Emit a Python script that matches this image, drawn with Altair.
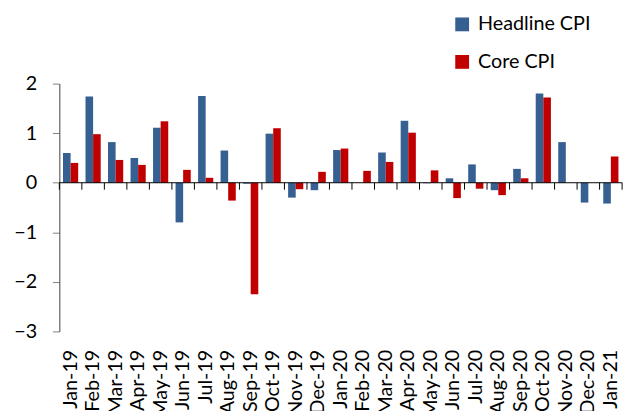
import altair as alt
import pandas as pd

months = ["Jan-19", "Feb-19", "Mar-19", "Apr-19", "May-19", "Jun-19", "Jul-19", "Aug-19",
          "Sep-19", "Oct-19", "Nov-19", "Dec-19", "Jan-20", "Feb-20", "Mar-20", "Apr-20",
          "May-20", "Jun-20", "Jul-20", "Aug-20", "Sep-20", "Oct-20", "Nov-20", "Dec-20", "Jan-21"]
headline = [0.60, 1.74, 0.82, 0.50, 1.11, -0.80, 1.75, 0.65, -0.02, 0.99, -0.30, -0.15,
            0.66, 0.00, 0.61, 1.25, -0.01, 0.09, 0.37, -0.15, 0.28, 1.80, 0.82, -0.40, -0.42]
core = [0.40, 0.98, 0.46, 0.36, 1.24, 0.26, 0.10, -0.36, -2.25, 1.10, -0.13, 0.22,
        0.69, 0.24, 0.42, 1.01, 0.25, -0.31, -0.12, -0.25, 0.09, 1.72, 0.00, 0.00, 0.53]
series = ["Headline CPI", "Core CPI"]
colors = ["#376092", "#C00000"]
y_ticks = [2, 1, 0, -1, -2, -3]

rows = []
for m, h, c in zip(months, headline, core):
    rows.append({"month": m, "series": series[0], "value": h})
    rows.append({"month": m, "series": series[1], "value": c})
df = pd.DataFrame(rows)

FONT = "Lato"
yscale = alt.Scale(domain=[-3, 2], nice=False, zero=False)

bars = alt.Chart(df).mark_bar().encode(
    x=alt.X("month:N", sort=months,
            scale=alt.Scale(paddingInner=0.325, paddingOuter=0.1625),
            axis=alt.Axis(title=None, labelAngle=-90, domain=False, ticks=False,
                          labelPadding=18, labelFontSize=20, labelFont=FONT,
                          labelColor="black", labelOverlap=False)),
    xOffset=alt.XOffset("series:N", sort=series, scale=alt.Scale(paddingInner=0, paddingOuter=0)),
    y=alt.Y("value:Q", scale=yscale,
            axis=alt.Axis(title=None, values=y_ticks, grid=False, tickSize=7,
                          tickColor="#7f7f7f", domainColor="#404040", labelPadding=16,
                          labelFontSize=20, labelFont=FONT, labelColor="black")),
    color=alt.Color("series:N", sort=series,
                    scale=alt.Scale(domain=series, range=colors),
                    legend=alt.Legend(title=None, orient="none", legendX=398, legendY=-70,
                                      symbolType="square", symbolSize=196, symbolStrokeWidth=0,
                                      labelFontSize=20, labelFont=FONT, labelColor="black",
                                      rowPadding=18, labelOffset=6)),
)

zero_line = alt.Chart(pd.DataFrame({"y": [0]})).mark_rule(color="black", strokeWidth=1).encode(
    y=alt.Y("y:Q", scale=yscale)
)

tick_df = pd.DataFrame({"i": list(range(len(months) + 1))})
ticks = alt.Chart(tick_df).mark_rule(color="black", strokeWidth=1).encode(
    x=alt.X("i:Q", scale=alt.Scale(domain=[0, len(months)], nice=False, zero=False), axis=None),
    y=alt.datum(0, scale=yscale),
    y2=alt.datum(-0.14),
)

chart = alt.layer(bars, zero_line, ticks).resolve_scale(x="independent").properties(
    width=570, height=251,
    autosize=alt.AutoSizeParams(type="none"),
    padding={"left": 52, "top": 74, "right": 8, "bottom": 78},
).configure_view(stroke=None)

chart.save("out.html", embed_options={"renderer": "svg", "actions": False})
